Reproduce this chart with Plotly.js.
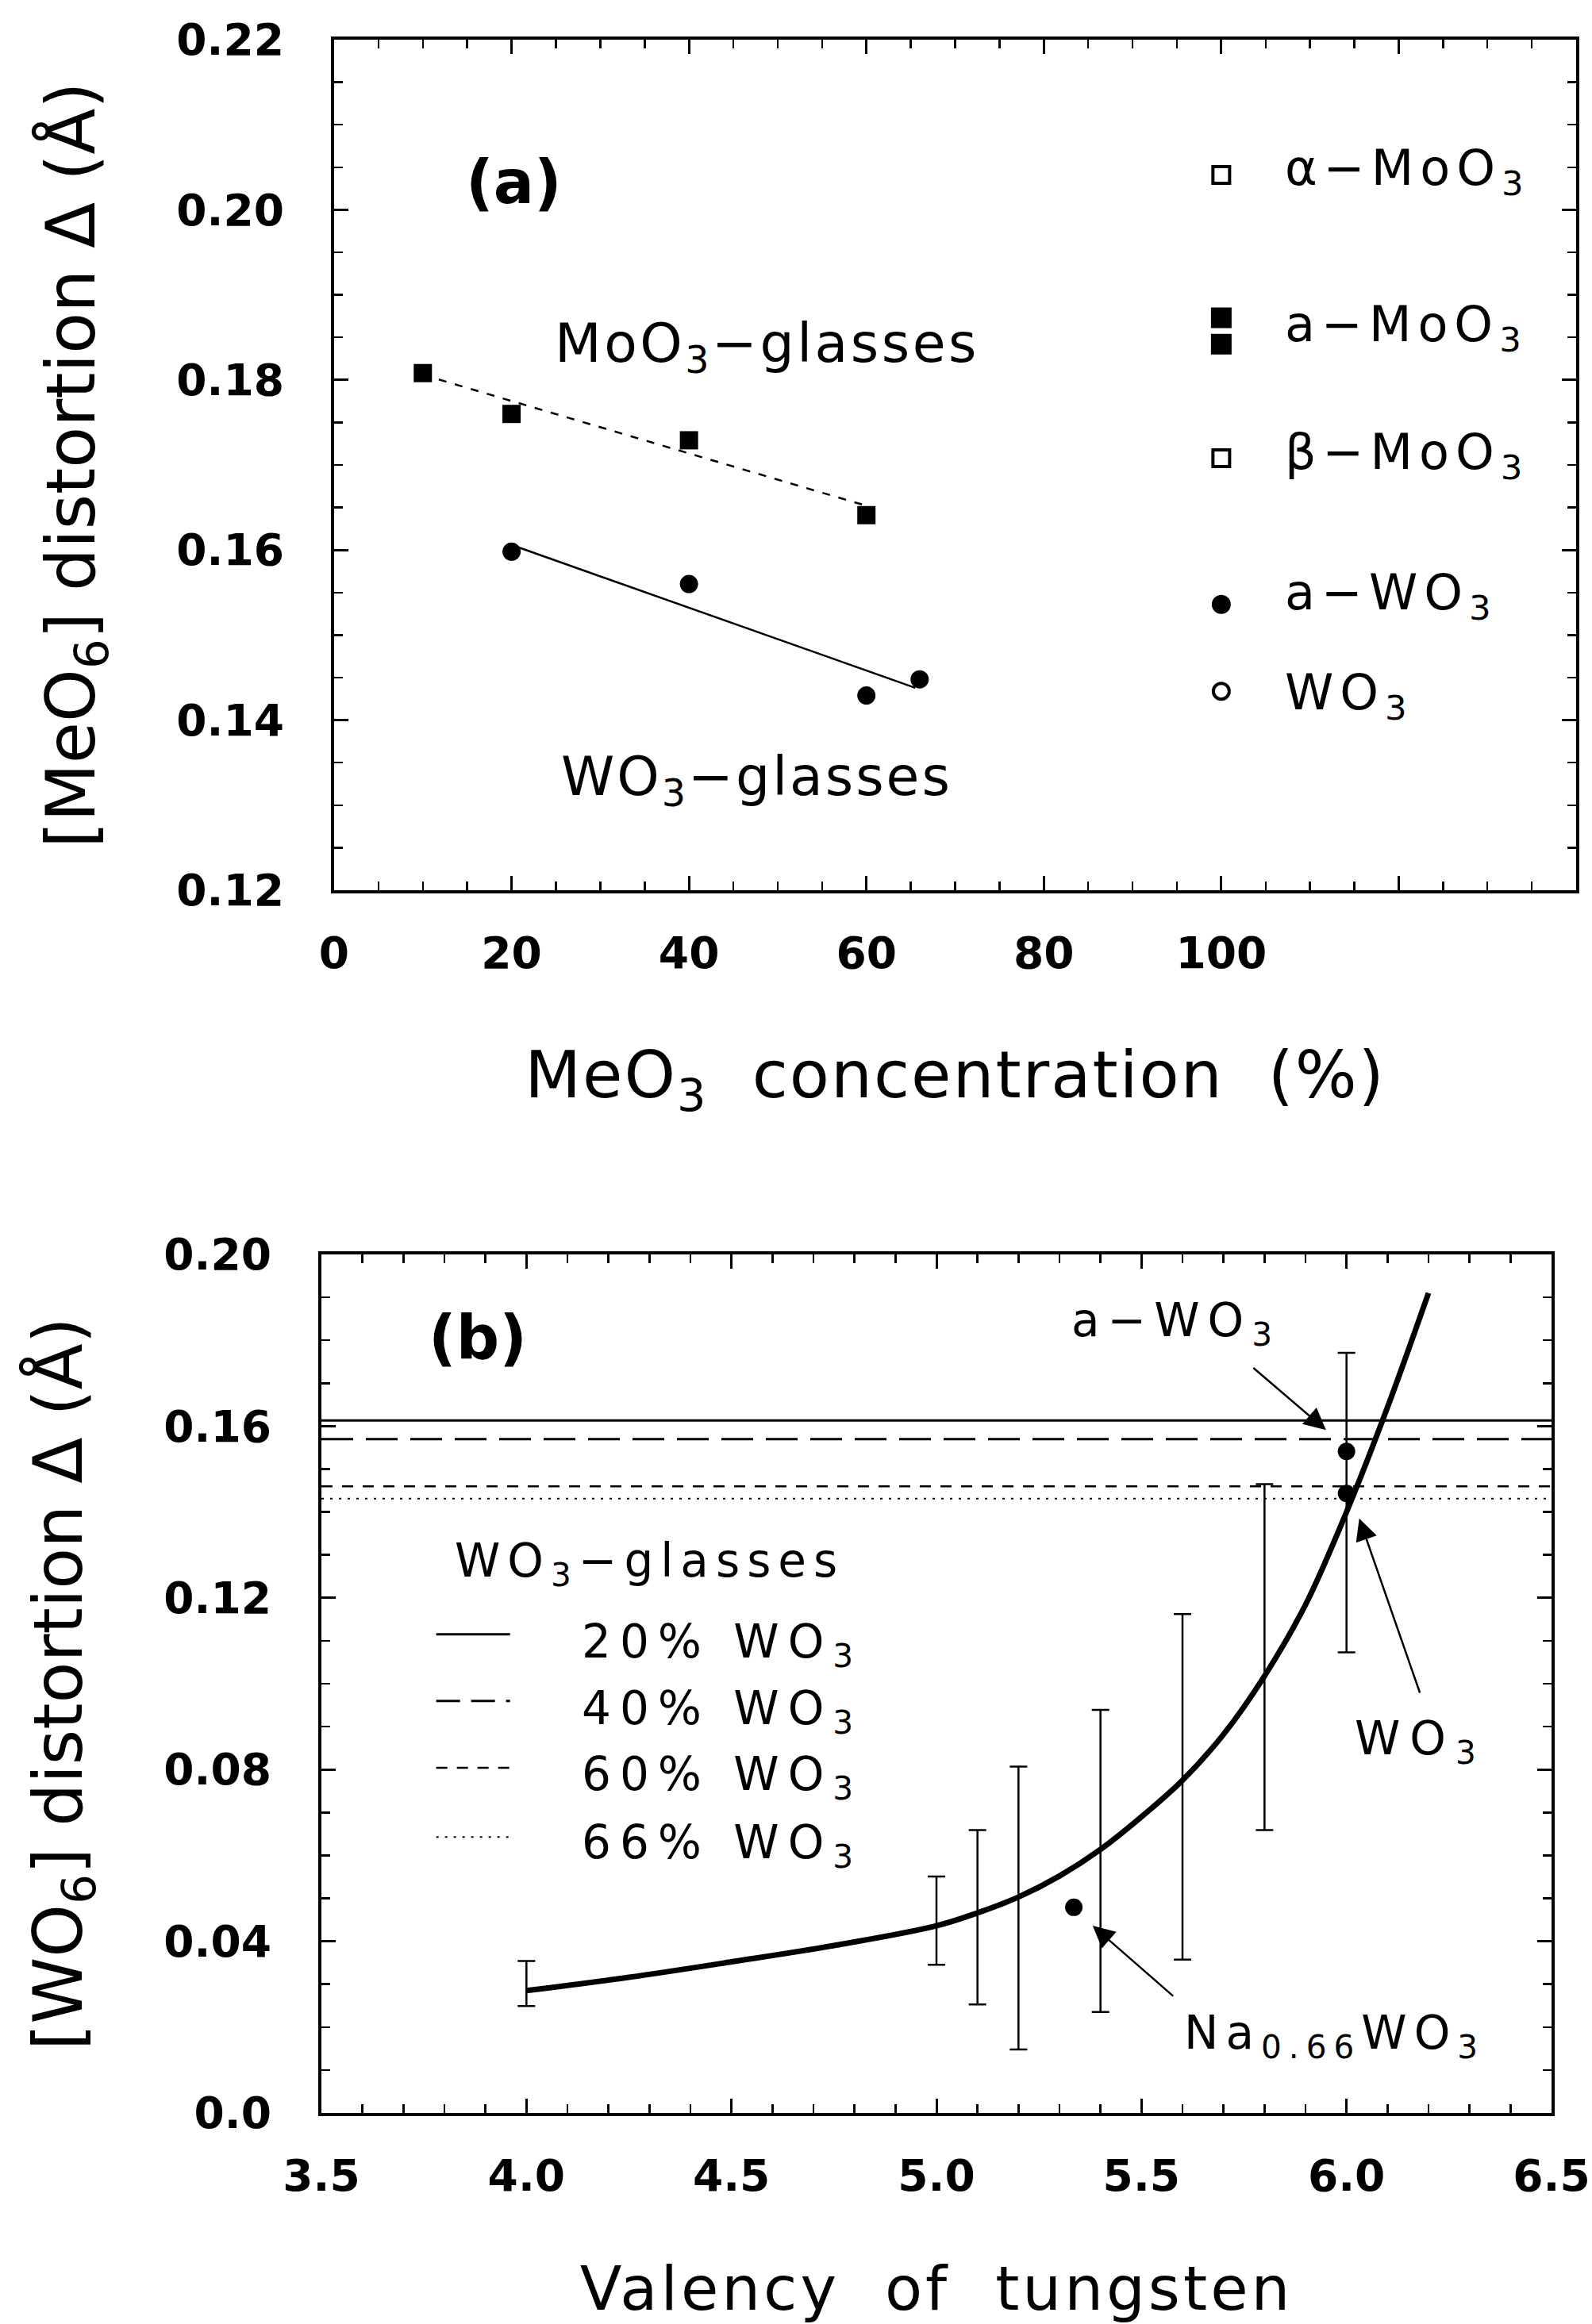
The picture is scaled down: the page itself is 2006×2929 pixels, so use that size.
<!DOCTYPE html>
<html>
<head>
<meta charset="utf-8">
<script src="https://cdn.plot.ly/plotly-3.0.1.min.js"></script>
<style>
  html, body { margin: 0; padding: 0; background: #fff; }
  #chart { width: 2006px; height: 2929px; }
</style>
</head>
<body>
<div id="chart"></div>
<script>
// ---------------- Panel (a) data ----------------
const moGlassX = [10, 20, 40, 60];
const moGlassY = [0.1808, 0.1760, 0.1729, 0.1641];
const moFitX = [10, 60];
const moFitY = [0.1806, 0.1652];

const wGlassX = [20, 40, 60, 66];
const wGlassY = [0.1598, 0.1560, 0.1429, 0.1448];
const wFitX = [20, 65.5];
const wFitY = [0.1606, 0.1438];

// crystalline / amorphous references plotted at 100 %
const refX = 100;
const alphaMoY = [0.2041];
const aMoY = [0.1873, 0.1842];
const betaMoY = [0.1708];
const aWY = [0.1536];
const wo3Y = [0.1434];
const refLabels = ['α−MoO<sub>3</sub>', 'a−MoO<sub>3</sub>', 'β−MoO<sub>3</sub>', 'a−WO<sub>3</sub>', 'WO<sub>3</sub>'];
const refLabelY = [0.2046, 0.1862, 0.1712, 0.1547, 0.1429];
const refLabelX = 107;

const xTickValsA = [0, 20, 40, 60, 80, 100, 120, 140];
const xTickTextA = ['0', '20', '40', '60', '80', '100', '', ''];
const yTickValsA = [0.12, 0.14, 0.16, 0.18, 0.20, 0.22];
const yTickTextA = ['0.12', '0.14', '0.16', '0.18', '0.20', '0.22'];

// ---------------- Panel (b) data ----------------
const glassNames = ['20% WO<sub>3</sub>', '40% WO<sub>3</sub>', '60% WO<sub>3</sub>', '66% WO<sub>3</sub>'];
const glassLevels = [0.1613, 0.1570, 0.1460, 0.1431];
const glassDash = ['solid', '40px,16px', '14px,12px', '3px,8px'];
const glassWidth = [3, 3, 2.5, 2];

const errX = [4.0, 5.0, 5.1, 5.2, 5.4, 5.6, 5.8, 6.0];
const errLow = [0.0249, 0.0345, 0.0253, 0.0148, 0.0235, 0.0357, 0.0659, 0.1073];
const errHigh = [0.0354, 0.0551, 0.0659, 0.0807, 0.0939, 0.1162, 0.1465, 0.1771];

const curveX = [4.0, 4.25, 4.5, 4.75, 5.0, 5.1, 5.2, 5.3, 5.4, 5.5, 5.6, 5.7, 5.8, 5.9, 6.0, 6.1, 6.2];
const curveY = [0.0285, 0.0316, 0.0352, 0.0390, 0.0436, 0.0466, 0.0503, 0.0552, 0.0614, 0.0690, 0.0775, 0.0882, 0.1018, 0.1184, 0.1400, 0.1644, 0.1910];

const ptX = [6.0, 6.0, 5.335];
const ptY = [0.1541, 0.1443, 0.0479];

const legendSampleX = [3.78, 3.96];
const legendLineY = [0.1115, 0.0960, 0.0804, 0.0643];
const legendTextX = 4.13;
const legendTextY = [0.1091, 0.0936, 0.0781, 0.0623];
const legendTitleY = 0.1279;

const xTickValsB = [3.5, 4.0, 4.5, 5.0, 5.5, 6.0, 6.5];
const xTickTextB = ['3.5', '4.0', '4.5', '5.0', '5.5', '6.0', '6.5'];
const yTickValsB = [0.0, 0.04, 0.08, 0.12, 0.16, 0.20];
const yTickTextB = ['0.0', '0.04', '0.08', '0.12', '0.16', '0.20'];

// ---------------- traces ----------------
const BLACK = '#000';
const traces = [];

traces.push({x: moFitX, y: moFitY, xaxis: 'x', yaxis: 'y', mode: 'lines',
  line: {color: BLACK, width: 2.5, dash: '10px,11px'}, hoverinfo: 'skip'});
traces.push({x: wFitX, y: wFitY, xaxis: 'x', yaxis: 'y', mode: 'lines',
  line: {color: BLACK, width: 2.5}, hoverinfo: 'skip'});
traces.push({x: moGlassX, y: moGlassY, xaxis: 'x', yaxis: 'y', mode: 'markers', name: 'MoO3-glasses',
  marker: {symbol: 'square', size: 23, color: BLACK}});
traces.push({x: wGlassX, y: wGlassY, xaxis: 'x', yaxis: 'y', mode: 'markers', name: 'WO3-glasses',
  marker: {symbol: 'circle', size: 23, color: BLACK}});
traces.push({x: alphaMoY.map(() => refX), y: alphaMoY, xaxis: 'x', yaxis: 'y', mode: 'markers',
  marker: {symbol: 'square-open', size: 21, color: BLACK, line: {width: 4, color: BLACK}}});
traces.push({x: aMoY.map(() => refX), y: aMoY, xaxis: 'x', yaxis: 'y', mode: 'markers',
  marker: {symbol: 'square', size: 26, color: BLACK}});
traces.push({x: betaMoY.map(() => refX), y: betaMoY, xaxis: 'x', yaxis: 'y', mode: 'markers',
  marker: {symbol: 'square-open', size: 21, color: BLACK, line: {width: 4, color: BLACK}}});
traces.push({x: aWY.map(() => refX), y: aWY, xaxis: 'x', yaxis: 'y', mode: 'markers',
  marker: {symbol: 'circle', size: 24, color: BLACK}});
traces.push({x: wo3Y.map(() => refX), y: wo3Y, xaxis: 'x', yaxis: 'y', mode: 'markers',
  marker: {symbol: 'circle-open', size: 20, color: BLACK, line: {width: 4, color: BLACK}}});

// panel b horizontal glass levels
glassLevels.forEach((lv, i) => {
  traces.push({x: [xTickValsB[0], xTickValsB[xTickValsB.length - 1]], y: [lv, lv], xaxis: 'x2', yaxis: 'y2',
    mode: 'lines', name: glassNames[i], line: {color: BLACK, width: glassWidth[i], dash: glassDash[i]}});
});
// error bars
const errMid = errX.map((_, i) => (errLow[i] + errHigh[i]) / 2);
const errHalf = errX.map((_, i) => (errHigh[i] - errLow[i]) / 2);
traces.push({x: errX, y: errMid, xaxis: 'x2', yaxis: 'y2', mode: 'markers',
  marker: {size: 1, color: 'rgba(0,0,0,0)'},
  error_y: {type: 'data', array: errHalf, visible: true, color: BLACK, thickness: 2.5, width: 11}});
// curve
traces.push({x: curveX, y: curveY, xaxis: 'x2', yaxis: 'y2', mode: 'lines',
  line: {color: BLACK, width: 7, shape: 'spline', smoothing: 1.0}});
// points
traces.push({x: ptX, y: ptY, xaxis: 'x2', yaxis: 'y2', mode: 'markers',
  marker: {symbol: 'circle', size: 22, color: BLACK}});

// ---------------- annotations ----------------
const FONT = 'DejaVu Sans';
function sp(txt, ls) { return '<span style="letter-spacing:' + ls + 'px">' + txt + '</span>'; }
const ann = [];
ann.push({xref: 'x', yref: 'y', x: 20.3, y: 0.2033, text: '(a)', showarrow: false,
  font: {family: FONT, size: 76, weight: 'bold', color: BLACK}});
ann.push({xref: 'x', yref: 'y', x: 48.8, y: 0.1839, text: sp('MoO<sub>3</sub>−glasses', 3.5),
  showarrow: false, font: {family: FONT, size: 68, color: BLACK}});
ann.push({xref: 'x', yref: 'y', x: 47.6, y: 0.1330, text: sp('WO<sub>3</sub>−glasses', 3),
  showarrow: false, font: {family: FONT, size: 68, color: BLACK}});
refLabels.forEach((t, i) => {
  ann.push({xref: 'x', yref: 'y', x: refLabelX, y: refLabelY[i], xanchor: 'left', text: sp(t, 8),
    showarrow: false, font: {family: FONT, size: 62, color: BLACK}});
});

ann.push({xref: 'x2', yref: 'y2', x: 3.881, y: 0.1807, text: '(b)', showarrow: false,
  font: {family: FONT, size: 76, weight: 'bold', color: BLACK}});
ann.push({xref: 'x2', yref: 'y2', x: 5.584, y: 0.1839, text: sp('a−WO<sub>3</sub>', 10), showarrow: false,
  font: {family: FONT, size: 58, color: BLACK}});
ann.push({xref: 'x2', yref: 'y2', x: 6.180, y: 0.0865, text: sp('WO<sub>3</sub>', 12), showarrow: false,
  font: {family: FONT, size: 58, color: BLACK}});
ann.push({xref: 'x2', yref: 'y2', x: 5.970, y: 0.0180, text: sp('Na<sub>0.66</sub>WO<sub>3</sub>', 9), showarrow: false,
  font: {family: FONT, size: 58, color: BLACK}});
// arrows
const arrowHeadX = [5.950, 6.031, 5.381];
const arrowHeadY = [0.1591, 0.1385, 0.0436];
const arrowTailX = [5.770, 6.180, 5.580];
const arrowTailY = [0.1738, 0.0976, 0.0270];
arrowHeadX.forEach((hx, i) => {
  ann.push({xref: 'x2', yref: 'y2', axref: 'x2', ayref: 'y2', x: hx, y: arrowHeadY[i],
    ax: arrowTailX[i], ay: arrowTailY[i],
    text: '', showarrow: true, arrowhead: 2, arrowsize: 2.2, arrowwidth: 2.5, arrowcolor: BLACK});
});
// legend of panel b
ann.push({xref: 'x2', yref: 'y2', x: 3.821, y: legendTitleY, xanchor: 'left', text: sp('WO<sub>3</sub>−glasses', 9),
  showarrow: false, font: {family: FONT, size: 58, color: BLACK}});
glassNames.forEach((t, i) => {
  ann.push({xref: 'x2', yref: 'y2', x: legendTextX, y: legendTextY[i], xanchor: 'left',
    text: sp(t.replace(' ', '\u00a0'), 11), showarrow: false, font: {family: FONT, size: 58, color: BLACK}});
});
const shapes = glassNames.map((t, i) => ({type: 'line', xref: 'x2', yref: 'y2',
  x0: legendSampleX[0], x1: legendSampleX[1], y0: legendLineY[i], y1: legendLineY[i],
  line: {color: BLACK, width: glassWidth[i], dash: glassDash[i] === '40px,16px' ? '30px,14px' : glassDash[i]}}));

// ---------------- axes ----------------
const tickFont = {family: FONT, size: 55, weight: 'bold', color: BLACK};
function axisBase() {
  return {showline: true, linewidth: 4, linecolor: BLACK, mirror: 'allticks', ticks: 'inside',
    ticklen: 18, tickwidth: 3, tickcolor: BLACK, showgrid: false, zeroline: false,
    tickfont: tickFont, tickmode: 'array', automargin: false, fixedrange: true};
}
const W = 2006, H = 2929;
const layout = {
  width: W, height: H, margin: {l: 0, r: 0, t: 0, b: 0},
  paper_bgcolor: '#fff', plot_bgcolor: '#fff', showlegend: false,
  xaxis: Object.assign(axisBase(), {domain: [421 / W, 1986 / W], range: [0, 140], anchor: 'y',
    tickvals: xTickValsA, ticktext: xTickTextA, ticklabelstandoff: 28,
    minor: {dtick: 5, tick0: 0, ticks: 'inside', ticklen: 11, tickwidth: 2.5, tickcolor: BLACK},
    title: {text: sp('MeO<sub>3</sub>\u00a0\u00a0concentration\u00a0\u00a0(%)', 2), standoff: 95,
      font: {family: FONT, size: 82, color: BLACK}}}),
  yaxis: Object.assign(axisBase(), {domain: [1 - 1122 / H, 1 - 50 / H], range: [0.12, 0.22], anchor: 'x',
    tickvals: yTickValsA, ticktext: yTickTextA, ticklabelstandoff: 48,
    minor: {dtick: 0.005, tick0: 0.12, ticks: 'inside', ticklen: 11, tickwidth: 2.5, tickcolor: BLACK},
    title: {text: '[MeO<sub>6</sub>] distortion Δ (Å)', standoff: 76,
      font: {family: FONT, size: 85, color: BLACK}}}),
  xaxis2: Object.assign(axisBase(), {domain: [405 / W, 1955 / W], range: [3.5, 6.5], anchor: 'y2',
    tickvals: xTickValsB, ticktext: xTickTextB, ticklabelstandoff: 28,
    minor: {dtick: 0.1, tick0: 3.5, ticks: 'inside', ticklen: 11, tickwidth: 2.5, tickcolor: BLACK},
    title: {text: sp('Valency\u00a0\u00a0of\u00a0\u00a0tungsten', 4), standoff: 95,
      font: {family: FONT, size: 77, color: BLACK}}}),
  yaxis2: Object.assign(axisBase(), {domain: [1 - 2663 / H, 1 - 1581 / H], range: [0, 0.2], anchor: 'x2',
    tickvals: yTickValsB, ticktext: yTickTextB, ticklabelstandoff: 48,
    minor: {dtick: 0.01, tick0: 0, ticks: 'inside', ticklen: 11, tickwidth: 2.5, tickcolor: BLACK},
    title: {text: '[WO<sub>6</sub>] distortion Δ (Å)', standoff: 76,
      font: {family: FONT, size: 85, color: BLACK}}}),
  annotations: ann,
  shapes: shapes
};

Plotly.newPlot('chart', traces, layout, {staticPlot: true, displayModeBar: false});
</script>
</body>
</html>
